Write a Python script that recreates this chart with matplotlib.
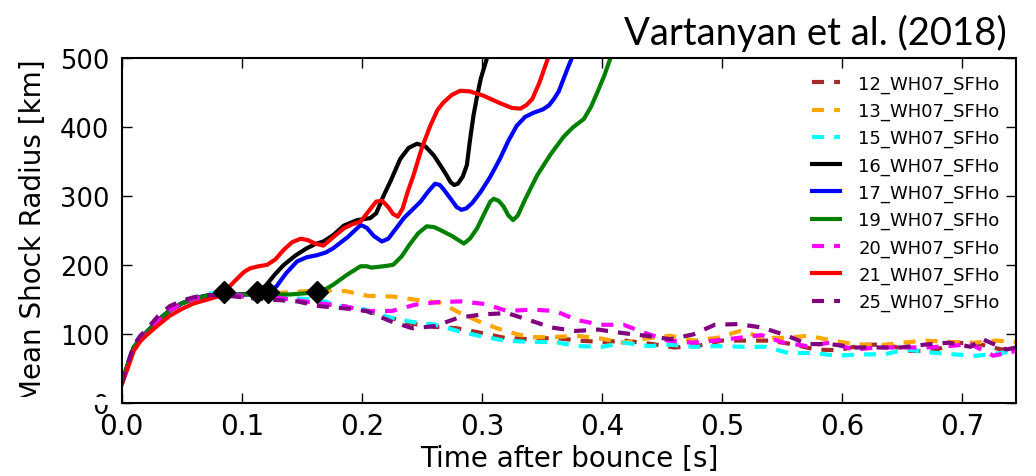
import matplotlib
matplotlib.use("Agg")
import matplotlib.pyplot as plt
from matplotlib.patches import Rectangle

plt.rcParams["font.family"] = ["DejaVu Sans"]
plt.rcParams["lines.solid_joinstyle"] = "round"
plt.rcParams["lines.dash_joinstyle"] = "round"

# early part shared by the runs (time after bounce [s], radius [km])
t_early = [0.0, 0.005, 0.01, 0.015, 0.02, 0.03, 0.04, 0.05, 0.06, 0.07, 0.08]
r_early = [28, 55, 80, 92, 101, 119, 134, 144, 151, 155, 156]

# exploding models
t_21 = [0.0, 0.005, 0.01, 0.015, 0.02, 0.03, 0.04, 0.05, 0.06, 0.07, 0.08, 0.085, 0.095, 0.102,
        0.107, 0.114, 0.121, 0.128, 0.135, 0.142, 0.149, 0.155, 0.161, 0.168, 0.176, 0.185, 0.192,
        0.199, 0.207, 0.212, 0.217, 0.222, 0.226, 0.230, 0.234, 0.238, 0.243, 0.250, 0.257,
        0.263, 0.268, 0.275, 0.282, 0.290, 0.301, 0.315, 0.325, 0.332, 0.337, 0.342, 0.348, 0.356]
r_21 = [26, 50, 75, 88, 97, 112, 126, 136, 144, 149, 154, 160, 178, 190,
        195, 198, 200, 208, 222, 233, 238, 236, 231, 228, 240, 253, 259,
        263, 281, 292, 293, 284, 274, 270, 282, 305, 330, 370, 402,
        425, 436, 447, 453, 452, 446, 435, 428, 427, 432, 441, 465, 505]

t_16 = t_early + [0.09, 0.10, 0.1125, 0.12, 0.128, 0.135, 0.145, 0.154, 0.161, 0.168, 0.176, 0.185,
                  0.196, 0.207, 0.212, 0.218, 0.224, 0.232, 0.239, 0.246, 0.253, 0.260, 0.266,
                  0.270, 0.274, 0.277, 0.280, 0.284, 0.2875, 0.290, 0.293, 0.296, 0.299, 0.305]
r_16 = r_early + [156, 157, 160, 170, 187, 200, 214, 224, 230, 234, 243, 257,
                  265, 268, 275, 300, 322, 354, 370, 376, 372, 359, 343,
                  332, 320, 316, 318, 328, 345, 380, 417, 445, 470, 505]

t_17 = t_early + [0.09, 0.10, 0.11, 0.122, 0.129, 0.137, 0.146, 0.154, 0.1625, 0.170, 0.176, 0.188,
                  0.199, 0.204, 0.210, 0.2167, 0.222, 0.229, 0.235, 0.242, 0.249, 0.255, 0.261,
                  0.265, 0.268, 0.274, 0.279, 0.283, 0.287, 0.292, 0.299, 0.307, 0.315, 0.322,
                  0.329, 0.336, 0.343, 0.351, 0.356, 0.360, 0.364, 0.368, 0.372, 0.376]
r_17 = r_early + [156, 157, 157, 160, 169, 188, 205, 211, 214, 218, 224, 240,
                  258, 254, 242, 234, 238, 254, 268, 280, 292, 306, 318,
                  316, 310, 296, 284, 280, 282, 290, 306, 328, 354, 380,
                  402, 415, 421, 426, 432, 441, 452, 470, 488, 505]

t_19 = t_early + [0.09, 0.10, 0.12, 0.14, 0.1625, 0.170, 0.176, 0.188, 0.199, 0.204, 0.208, 0.213,
                  0.218, 0.226, 0.233, 0.240, 0.247, 0.254, 0.260, 0.265, 0.275, 0.285, 0.290, 0.296,
                  0.303, 0.307, 0.310, 0.314, 0.318, 0.322, 0.326, 0.330, 0.336, 0.346, 0.357,
                  0.368, 0.376, 0.385, 0.391, 0.396, 0.402, 0.408]
r_19 = r_early + [156, 157, 157, 157, 160, 165, 171, 186, 198, 198, 196, 197,
                  198, 200, 212, 230, 246, 256, 255, 251, 242, 231, 238, 253,
                  278, 292, 296, 293, 285, 272, 265, 272, 295, 330, 360,
                  386, 400, 412, 430, 450, 475, 505]

# non-exploding models
t_12 = t_early + [0.09, 0.10, 0.12, 0.14, 0.16, 0.185, 0.204, 0.224, 0.24, 0.26, 0.279, 0.300, 0.319,
                  0.340, 0.361, 0.380, 0.401, 0.419, 0.442, 0.460, 0.479, 0.500, 0.519, 0.539, 0.558,
                  0.578, 0.597, 0.618, 0.637, 0.657, 0.675, 0.696, 0.714, 0.733, 0.745]
r_12 = r_early + [155, 154, 153, 150, 145, 140, 133, 123, 115, 110, 108, 101, 94,
                  92, 94, 90, 88, 90, 85, 80, 82, 90, 90, 90, 85,
                  77, 76, 84, 84, 75, 75, 87, 85, 77, 80]

t_13 = t_early + [0.09, 0.10, 0.12, 0.146, 0.165, 0.186, 0.205, 0.226, 0.246, 0.265, 0.282, 0.300,
                  0.319, 0.339, 0.358, 0.379, 0.399, 0.418, 0.436, 0.457, 0.476, 0.496, 0.515, 0.535,
                  0.553, 0.572, 0.592, 0.610, 0.630, 0.651, 0.669, 0.690, 0.710, 0.728, 0.745]
r_13 = r_early + [156, 157, 158, 161, 163, 162, 155, 154, 149, 145, 130, 116,
                  104, 95, 95, 97, 93, 87, 93, 97, 90, 94, 104, 94,
                  94, 97, 90, 85, 83, 87, 90, 88, 87, 90, 88]

t_15 = [0.0, 0.005, 0.01, 0.015, 0.02, 0.03, 0.04, 0.05, 0.06, 0.07, 0.08, 0.09, 0.10, 0.12, 0.14,
        0.164, 0.183, 0.203, 0.222, 0.242, 0.261, 0.280, 0.300, 0.319, 0.340, 0.360, 0.380, 0.400,
        0.419, 0.439, 0.457, 0.478, 0.497, 0.516, 0.537, 0.555, 0.576, 0.596, 0.615, 0.635, 0.653,
        0.673, 0.693, 0.712, 0.732, 0.745]
r_15 = [28, 55, 80, 92, 101, 119, 134, 144, 152, 159, 158, 156, 155, 154, 152,
        149, 140, 135, 124, 117, 113, 104, 96, 90, 88, 88, 82, 81,
        87, 82, 84, 81, 82, 81, 81, 72, 72, 68, 70, 70, 77,
        73, 70, 68, 72, 75]

t_20 = t_early + [0.09, 0.10, 0.12, 0.14, 0.16, 0.185, 0.204, 0.225, 0.244, 0.264, 0.283, 0.303,
                  0.321, 0.342, 0.361, 0.379, 0.399, 0.418, 0.436, 0.455, 0.475, 0.494, 0.514, 0.533,
                  0.551, 0.571, 0.590, 0.610, 0.629, 0.650, 0.670, 0.689, 0.707, 0.726, 0.745]
r_20 = r_early + [156, 155, 154, 150, 145, 140, 133, 133, 142, 146, 147, 143,
                  133, 135, 133, 120, 113, 113, 101, 90, 87, 90, 94, 98,
                  87, 82, 87, 77, 80, 80, 80, 82, 85, 68, 75]

t_25 = [0.0, 0.005, 0.01, 0.015, 0.02, 0.03, 0.04, 0.05, 0.06, 0.07, 0.08, 0.09, 0.10, 0.12,
        0.146, 0.165, 0.185, 0.204, 0.224, 0.242, 0.261, 0.280, 0.300, 0.321, 0.339, 0.358, 0.378,
        0.397, 0.417, 0.437, 0.457, 0.476, 0.494, 0.514, 0.533, 0.553, 0.571, 0.590, 0.611, 0.630,
        0.649, 0.668, 0.689, 0.707, 0.717, 0.737, 0.745]
r_25 = [28, 57, 83, 96, 105, 125, 140, 148, 153, 156, 156, 155, 153, 150,
        147, 140, 137, 133, 118, 108, 111, 123, 128, 130, 120, 109, 104,
        106, 101, 97, 92, 99, 113, 114, 109, 98, 85, 85, 80, 80,
        80, 84, 87, 81, 92, 77, 80]

# revival times (diamonds)
t_rev = [0.085, 0.1125, 0.122, 0.1625]
r_rev = [160, 160, 160, 160]

fig = plt.figure(figsize=(10.36, 4.77), dpi=100)
ax = fig.add_axes([0.1175, 0.154, 0.8633, 0.7215])

dash = (2.9, 2.4)
lw = 3.0
ax.plot(t_12, r_12, color="brown", lw=lw, dashes=dash, label="12_WH07_SFHo")
ax.plot(t_13, r_13, color="orange", lw=lw, dashes=dash, label="13_WH07_SFHo")
ax.plot(t_15, r_15, color="cyan", lw=lw, dashes=dash, label="15_WH07_SFHo")
ax.plot(t_16, r_16, color="black", lw=lw, label="16_WH07_SFHo")
ax.plot(t_17, r_17, color="blue", lw=lw, label="17_WH07_SFHo")
ax.plot(t_19, r_19, color="green", lw=lw, label="19_WH07_SFHo")
ax.plot(t_20, r_20, color="magenta", lw=lw, dashes=dash, label="20_WH07_SFHo")
ax.plot(t_21, r_21, color="red", lw=lw, label="21_WH07_SFHo")
ax.plot(t_25, r_25, color="purple", lw=lw, dashes=dash, label="25_WH07_SFHo")
ax.plot(t_rev, r_rev, "D", color="black", markersize=11, zorder=5)

ax.set_xlim(0, 0.745)
ax.set_ylim(0, 500)
ax.set_xticks([0.0, 0.1, 0.2, 0.3, 0.4, 0.5, 0.6, 0.7])
ax.set_yticks([0, 100, 200, 300, 400, 500])
ax.tick_params(direction="in", top=True, right=True, length=7, width=1)
ax.tick_params(axis="x", pad=7, labelsize=20)
ax.tick_params(axis="y", pad=9, labelsize=18.5)
for s in ax.spines.values():
    s.set_linewidth(1.5)
ax.set_xlabel("Time after bounce [s]", fontsize=20, labelpad=3)
ax.set_ylabel("Mean Shock Radius [km]", fontsize=20, labelpad=9)

leg = ax.legend(loc="upper right", fontsize=13, frameon=False, handlelength=1.6,
                labelspacing=0.5, handletextpad=1.0)

fig.text(0.972, 0.906, "Vartanyan et al. (2018)", ha="right", va="baseline",
         fontsize=27.5, family=["Lato", "DejaVu Sans"])

# white strip that hides the lower edge of the y label and the "0" label
fig.add_artist(Rectangle((0, 1 - 406 / 477), 0.114, 8 / 477, transform=fig.transFigure,
                         facecolor="white", edgecolor="none", zorder=10))

fig.savefig("out.png", dpi=100)
